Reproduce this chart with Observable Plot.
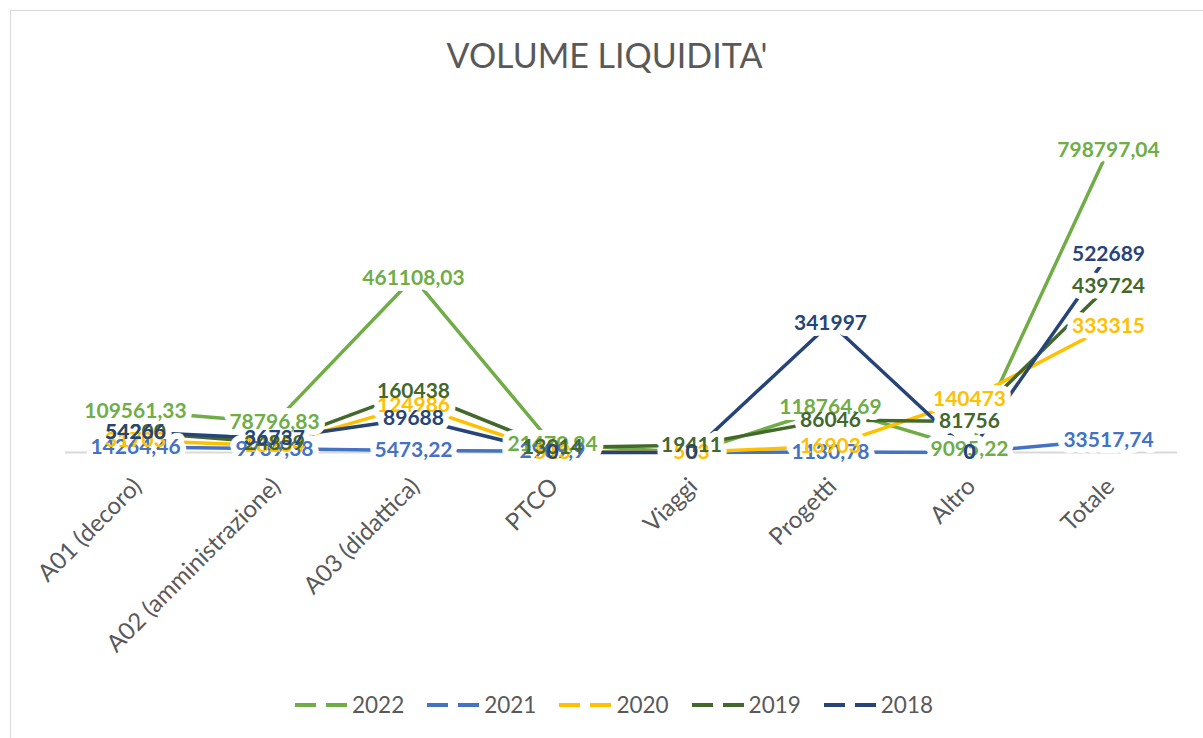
<!DOCTYPE html>
<html>
<head>
<meta charset="utf-8">
<script src="https://cdn.jsdelivr.net/npm/d3@7"></script>
<script src="https://cdn.jsdelivr.net/npm/@observablehq/plot@0.6"></script>
<style>
  html, body { margin: 0; padding: 0; background: #fff; width: 1203px; height: 738px; overflow: hidden; }
  #frame { position: absolute; left: 10px; top: 10px; width: 1400px; height: 900px; border-left: 1.5px solid #d9d9d9; border-top: 1.5px solid #d9d9d9; }
  #title { position: absolute; left: 0; top: 34px; width: 1214px; text-align: center; font-family: Lato, "Open Sans", sans-serif; font-size: 34px; color: #595959; }
  #chart { position: absolute; left: 0; top: 0; }
  #legend { position: absolute; left: 0; top: 691px; width: 1228px; display: flex; justify-content: center; gap: 23px; font-family: Lato, sans-serif; font-size: 22.5px; color: #595959; }
  .item { display: flex; align-items: center; gap: 5px; }
</style>
</head>
<body>
<div id="frame"></div>
<div id="chart"></div>
<div id="title">VOLUME LIQUIDITA'</div>
<div id="legend"></div>
<script>
const categories = ["A01 (decoro)", "A02 (amministrazione)", "A03 (didattica)", "PTCO", "Viaggi", "Progetti", "Altro", "Totale"];
const years = ["2022", "2021", "2020", "2019", "2018"];
const values2022 = [109561.33, 78796.83, 461108.03, 21470.94, 0, 118764.69, 9095.22, 798797.04];
const values2021 = [14264.46, 9739.38, 5473.22, 2909.9, 0, 1130.78, 0, 33517.74];
const values2020 = [31703, 18234, 124986, 513, 503, 16903, 140473, 333315];
const values2019 = [54200, 24859, 160438, 13014, 19411, 86046, 81756, 439724];
const values2018 = [54266, 36737, 89688, 0, 0, 341997, 0, 522689];
const colors = ["#70AD47", "#4472C4", "#FFC000", "#43682B", "#264478"];

const seriesValues = [values2022, values2021, values2020, values2019, values2018];
const rows = years.flatMap((yr, i) => seriesValues[i].map((v, j) => ({year: yr, cat: categories[j], value: v})));
const fmt = d => String(d.value).replace(".", ",");

const chart = Plot.plot({
  width: 1203,
  height: 680,
  marginLeft: 65,
  marginRight: 26,
  marginTop: 111,
  marginBottom: 228,
  style: {background: "transparent", fontFamily: "Lato, 'Open Sans', sans-serif"},
  x: {type: "point", domain: categories, padding: 0.5, label: null},
  y: {domain: [0, 900000], axis: null},
  color: {domain: years, range: colors},
  marks: [
    Plot.ruleY([0], {stroke: "#d9d9d9", strokeWidth: 2}),
    Plot.line(rows, {x: "cat", y: "value", z: "year", stroke: "year", strokeWidth: 3.5}),
    Plot.text(rows, {x: "cat", y: "value", text: fmt, fill: "white", stroke: "white", strokeWidth: 12, strokeLinejoin: "round", fontSize: 21, fontWeight: "bold"}),
    Plot.text(rows, {x: "cat", y: "value", text: fmt, fill: "year", fontSize: 21, fontWeight: "bold"}),
    Plot.axisX({tickRotate: -45, tickSize: 0, tickPadding: 8, dy: 22, dx: 2, fontSize: 24, color: "#595959", label: null})
  ]
});
document.getElementById("chart").appendChild(chart);

const legend = document.getElementById("legend");
years.forEach((yr, i) => {
  const item = document.createElement("div");
  item.className = "item";
  item.innerHTML = `<svg width="52" height="10"><line x1="0" y1="5" x2="21" y2="5" stroke="${colors[i]}" stroke-width="4"/><line x1="31" y1="5" x2="52" y2="5" stroke="${colors[i]}" stroke-width="4"/></svg><span>${yr}</span>`;
  legend.appendChild(item);
});
</script>
</body>
</html>
